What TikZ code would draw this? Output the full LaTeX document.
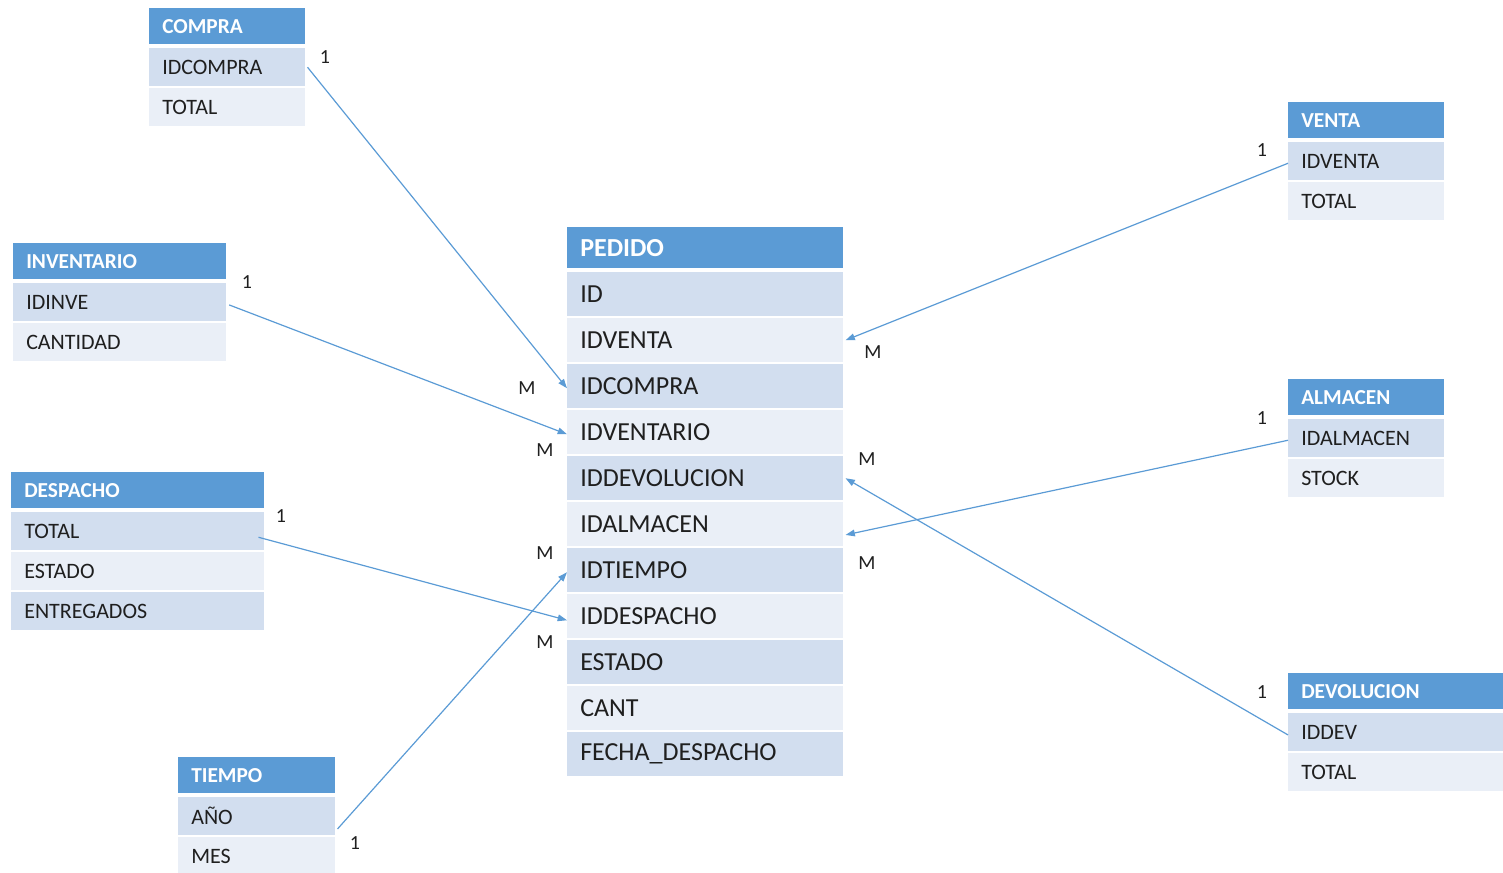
\documentclass[tikz,border=0pt]{standalone}
\usepackage{fontspec}
\setmainfont{Carlito}
\usetikzlibrary{arrows.meta}
\definecolor{hdr}{HTML}{5B9BD5}
\definecolor{rdark}{HTML}{D2DEEF}
\definecolor{rlight}{HTML}{EAEFF7}
\definecolor{txt}{HTML}{1F1F1F}
\definecolor{lnk}{HTML}{5B9BD5}
\tikzset{
  cell/.style={anchor=north west, rectangle, inner xsep=9.75pt, inner ysep=0pt, align=left, text=txt},
  hd/.style={cell, fill=hdr, text=white, font=\fontsize{16}{18}\selectfont\bfseries, minimum height=27pt},
  dk/.style={cell, fill=rdark, font=\fontsize{16.5}{18}\selectfont, minimum height=28.5pt},
  lt/.style={cell, fill=rlight, font=\fontsize{16.5}{18}\selectfont, minimum height=28.5pt},
  phd/.style={cell, fill=hdr, text=white, font=\fontsize{19.5}{21}\selectfont\bfseries, minimum height=30.75pt},
  pdk/.style={cell, fill=rdark, font=\fontsize{19.5}{21}\selectfont, minimum height=33pt},
  plt/.style={cell, fill=rlight, font=\fontsize{19.5}{21}\selectfont, minimum height=33pt},
  card/.style={font=\fontsize{15}{17}\selectfont, text=txt, inner sep=0pt},
  rel/.style={draw=lnk, line width=0.9pt, -{Triangle[length=7pt,width=5pt]}}
}
\begin{document}
\begin{tikzpicture}[x=0.75pt,y=-0.75pt]
\useasboundingbox (0,0) rectangle (1503,873);
% COMPRA
\begin{scope}[every node/.append style={text width=97.5pt}]
\node[hd] (compra) at (149,8) {COMPRA};
\node[dk] (compra1) at (149,48) {IDCOMPRA};
\node[lt] (compra2) at (149,88) {TOTAL};
% VENTA
\node[hd] (venta) at (1288,102) {VENTA};
\node[dk] (venta1) at (1288,142) {IDVENTA};
\node[lt] (venta2) at (1288,182) {TOTAL};
% ALMACEN
\node[hd] (alm) at (1288,379) {ALMACEN};
\node[dk] (alm1) at (1288,419) {IDALMACEN};
\node[lt] (alm2) at (1288,459) {STOCK};
\end{scope}
% TIEMPO
\begin{scope}[every node/.append style={text width=98.25pt}]
\node[hd] (tiempo) at (178,757) {TIEMPO};
\node[dk] (tiempo1) at (178,797) {AÑO};
\node[lt] (tiempo2) at (178,837) {MES};
\end{scope}
% INVENTARIO
\begin{scope}[every node/.append style={text width=140.25pt}]
\node[hd] (inv) at (13,243) {INVENTARIO};
\node[dk] (inv1) at (13,283) {IDINVE};
\node[lt] (inv2) at (13,323) {CANTIDAD};
\end{scope}
% DESPACHO
\begin{scope}[every node/.append style={text width=170.25pt}]
\node[hd] (desp) at (11,472) {DESPACHO};
\node[dk] (desp1) at (11,512) {TOTAL};
\node[lt] (desp2) at (11,552) {ESTADO};
\node[dk] (desp3) at (11,592) {ENTREGADOS};
\end{scope}
% DEVOLUCION
\begin{scope}[every node/.append style={text width=141.75pt}]
\node[hd] (dev) at (1288,673) {DEVOLUCION};
\node[dk] (dev1) at (1288,713) {IDDEV};
\node[lt] (dev2) at (1288,753) {TOTAL};
\end{scope}
% PEDIDO
\begin{scope}[every node/.append style={text width=187.5pt}]
\node[phd] (ped) at (567,227) {PEDIDO};
\node[pdk] (p1) at (567,272) {ID};
\node[plt] (p2) at (567,318) {IDVENTA};
\node[pdk] (p3) at (567,364) {IDCOMPRA};
\node[plt] (p4) at (567,410) {IDVENTARIO};
\node[pdk] (p5) at (567,456) {IDDEVOLUCION};
\node[plt] (p6) at (567,502) {IDALMACEN};
\node[pdk] (p7) at (567,548) {IDTIEMPO};
\node[plt] (p8) at (567,594) {IDDESPACHO};
\node[pdk] (p9) at (567,640) {ESTADO};
\node[plt] (p10) at (567,686) {CANT};
\node[pdk] (p11) at (567,732) {FECHA\_DESPACHO};
\end{scope}
% relationships
\draw[rel] ([xshift=1.5pt]compra1.east) -- ([yshift=-1.5pt]p3.west);
\draw[rel] ([xshift=2pt,yshift=-2pt]inv1.east) -- ([yshift=-1.5pt]p4.west);
\draw[rel] ([yshift=-1.5pt]venta1.west) -- ([xshift=1.5pt]p2.east);
\draw[rel] ([yshift=-1.5pt]alm1.west) -- ([xshift=1.5pt,yshift=-8pt]p6.east);
\draw[rel] ([yshift=-2pt]dev1.west) -- ([xshift=1.5pt]p5.east);
\draw[rel] ([xshift=-4.5pt,yshift=-4.5pt]desp1.east) -- ([yshift=-3pt]p8.west);
\draw[rel] ([xshift=1.5pt,yshift=-9.5pt]tiempo1.east) -- ([yshift=-1.5pt]p7.west);
% cardinalities
\node[card] (c1a) at (325,57) {1};
\node[card] (c1b) at (247,282) {1};
\node[card] (c1c) at (1262,150) {1};
\node[card] (c1d) at (1262,418) {1};
\node[card] (c1e) at (1262,692) {1};
\node[card] (c1f) at (281,516) {1};
\node[card] (c1g) at (355,843) {1};
\node[card] (cma) at (527,388) {M};
\node[card] (cmb) at (545,450) {M};
\node[card] (cmc) at (873,352) {M};
\node[card] (cmd) at (867,459) {M};
\node[card] (cme) at (867,563) {M};
\node[card] (cmf) at (545,553) {M};
\node[card] (cmg) at (545,642) {M};
\end{tikzpicture}
\end{document}
